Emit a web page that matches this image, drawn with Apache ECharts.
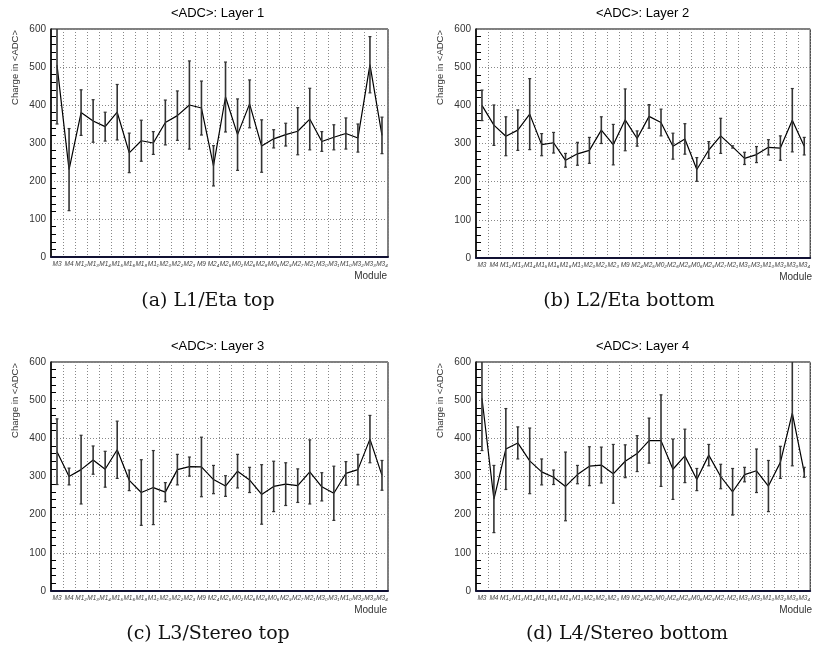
<!DOCTYPE html>
<html><head><meta charset="utf-8">
<script src="https://cdn.jsdelivr.net/npm/echarts@6/dist/echarts.min.js"></script>
<style>html,body{margin:0;padding:0;background:#fff}#c{width:813px;height:665px}</style>
</head><body><div id="c"></div>
<script>
const modules = ['M3','M4','M12','M13','M14','M15','M16','M18','M11','M20','M22','M23','M9','M24','M25','M02','M26','M28','M06','M29','M27','M21','M30','M31','M10','M32','M33','M34'];
const yTicks = [0,100,200,300,400,500,600];

const layer1 = [505,230,380,358,343,381,274,306,300,354,372,400,392,240,421,322,403,292,311,322,331,363,304,315,325,313,506,320];
const layer1Err = [155,108,60,56,38,73,52,54,30,59,65,116,71,53,92,94,63,69,24,30,62,81,26,33,41,37,74,48];
const layer2 = [400,348,319,335,377,297,302,256,273,282,335,297,362,313,371,355,293,312,232,283,320,291,261,271,290,288,361,293];
const layer2Err = [40,53,51,53,93,29,27,18,30,34,35,53,81,20,31,35,34,40,31,22,46,3,16,21,20,32,83,23];
const layer3 = [365,300,318,343,319,370,290,258,271,259,318,326,325,292,275,314,291,253,274,280,276,312,273,256,308,318,398,303];
const layer3Err = [86,22,90,37,47,75,27,86,97,25,40,25,78,37,27,44,33,78,66,56,44,84,37,71,31,40,62,39];
const layer4 = [505,241,372,388,341,312,298,274,305,327,330,307,340,360,394,394,319,354,292,356,300,260,305,315,275,337,466,311];
const layer4Err = [137,88,106,42,86,34,19,90,24,51,47,77,43,47,59,120,79,70,29,28,32,61,19,57,67,42,138,13];

const titles = ['<ADC>: Layer 1','<ADC>: Layer 2','<ADC>: Layer 3','<ADC>: Layer 4'];
const captions = ['(a) L1/Eta top','(b) L2/Eta bottom','(c) L3/Stereo top','(d) L4/Stereo bottom'];
const yName = 'Charge in <ADC>';
const xName = 'Module';

const layers = [[layer1,layer1Err],[layer2,layer2Err],[layer3,layer3Err],[layer4,layer4Err]];
const grids = [
  {left:51, top:29, width:337, height:228, cap:152},
  {left:476, top:29, width:337, height:229, cap:148},
  {left:51, top:362, width:337, height:229, cap:152},
  {left:476, top:362, width:337, height:229, cap:146}
];
const sub = {'0':'₀','1':'₁','2':'₂','3':'₃','4':'₄','5':'₅','6':'₆','7':'₇','8':'₈','9':'₉'};
function fmtLabel(s){
  if (s.length <= 2) return s;
  return s.slice(0, s.length-1) + sub[s[s.length-1]];
}

const chart = echarts.init(document.getElementById('c'));
const option = {
  animation:false,
  backgroundColor:'#fff',
  title:[], grid:[], xAxis:[], yAxis:[], series:[], graphic:[]
};
grids.forEach((g,k)=>{
  option.grid.push({left:g.left, top:g.top, width:g.width, height:g.height, show:true, borderColor:'#000', borderWidth:1, backgroundColor:'transparent'});
  option.title.push({text:titles[k], left:g.left + g.width/2 - 7, top:g.top-27, textAlign:'center',
    textStyle:{fontFamily:'Liberation Sans', fontSize:13, fontWeight:'normal', color:'#000'}});
  option.title.push({text:captions[k], left:g.left + g.cap, top:g.top+258, textAlign:'center',
    textStyle:{fontFamily:'DejaVu Serif', fontSize:19, fontWeight:'normal', color:'#111'}});
  option.xAxis.push({type:'category', gridIndex:k, data:modules, boundaryGap:true,
    axisLine:{lineStyle:{color:'#111133', width:2}},
    axisTick:{inside:true, length:4, interval:0, lineStyle:{color:'#000', width:1}},
    axisLabel:{interval:0, margin:4, fontSize:6.5, fontStyle:'italic', fontFamily:'Liberation Sans', color:'#444', formatter:fmtLabel},
    splitLine:{show:true, interval:0, lineStyle:{color:'#888', type:[1,2], width:1}}
  });
  option.yAxis.push({type:'value', gridIndex:k, min:yTicks[0], max:yTicks[yTicks.length-1], interval:100,
    axisLine:{show:true, lineStyle:{color:'#000', width:1.5}},
    axisTick:{inside:true, length:9, lineStyle:{color:'#000'}},
    minorTick:{show:true, splitNumber:5, length:5, lineStyle:{color:'#000'}},
    axisLabel:{fontSize:10, fontFamily:'Liberation Sans', color:'#333', margin:5},
    splitLine:{show:true, lineStyle:{color:'#888', type:[1,2], width:1}}
  });
  option.graphic.push({type:'text', rotation:Math.PI/2,
    style:{text:yName, fontSize:9.5, fontFamily:'Liberation Sans', fill:'#333', textAlign:'right', textVerticalAlign:'middle', x:0, y:0}, position:[g.left-36, g.top+1]});
  option.graphic.push({type:'text', style:{text:xName, fontSize:10, fontFamily:'Liberation Sans', fill:'#333', textAlign:'right', textVerticalAlign:'middle'}, position:[g.left+g.width-1, g.top+g.height+19]});
  const vals = layers[k][0], errs = layers[k][1];
  option.series.push({type:'line', xAxisIndex:k, yAxisIndex:k, data:vals, symbol:'none',
    lineStyle:{color:'#000', width:1.2}, z:3});
  option.series.push({type:'custom', xAxisIndex:k, yAxisIndex:k, z:4,
    data: vals.map((v,i)=>[i, v-errs[i], v+errs[i]]),
    renderItem:function(params, api){
      const lo = api.coord([api.value(0), api.value(1)]);
      const hi = api.coord([api.value(0), api.value(2)]);
      const cs = params.coordSys;
      const yTop = Math.max(hi[1], cs.y);
      const yBot = Math.min(lo[1], cs.y + cs.height);
      const ch = [];
      ch.push({type:'line', shape:{x1:lo[0], y1:yTop, x2:lo[0], y2:yBot}, style:{stroke:'#333', lineWidth:1.6}});
      if (hi[1] >= cs.y) ch.push({type:'line', shape:{x1:lo[0]-1.5, y1:hi[1], x2:lo[0]+1.5, y2:hi[1]}, style:{stroke:'#333', lineWidth:1.2}});
      ch.push({type:'line', shape:{x1:lo[0]-1.5, y1:lo[1], x2:lo[0]+1.5, y2:lo[1]}, style:{stroke:'#333', lineWidth:1.2}});
      return {type:'group', children:ch};
    }
  });
});
chart.setOption(option);
</script></body></html>
